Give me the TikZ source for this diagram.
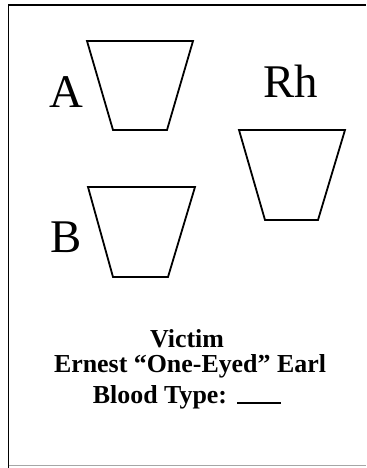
\documentclass[tikz,border=0pt]{standalone}
\usepackage{fontspec}
\setmainfont{Liberation Serif}
\begin{document}
\begin{tikzpicture}[x=1bp,y=-1bp,
  cup/.style={draw=black,line width=1.8bp,line join=miter},
  big/.style={font=\fontsize{47}{47}\selectfont,inner sep=0pt},
  caption/.style={font=\bfseries\fontsize{26}{26}\selectfont,inner sep=0pt,anchor=base}]
\useasboundingbox (0,0) rectangle (366,468);
% frame
\draw[line width=1.4bp] (8.5,468) -- (8.5,5) -- (366,5);
\draw[line width=0.8bp,black!35] (8.5,465.5) -- (366,465.5);
% cups
\draw[cup] (87,41) -- (193,41) -- (167,130) -- (113,130) -- cycle;
\draw[cup] (239,130) -- (345,130) -- (318,220) -- (265,220) -- cycle;
\draw[cup] (88,187) -- (195,187) -- (168,277) -- (113,277) -- cycle;
% labels
\node[big] (la) at (66,92) {A};
\node[big] (lrh) at (291,81) {Rh};
\node[big] (lb) at (66,237) {B};
\node[caption] (t1) at (187,347) {Victim};
\node[caption] (t2) at (190,372) {Ernest “One-Eyed” Earl};
\node[caption] (t3) at (187,403) {Blood Type:\hspace{10bp}\rule[-1bp]{44bp}{1.8bp}};
\end{tikzpicture}
\end{document}
